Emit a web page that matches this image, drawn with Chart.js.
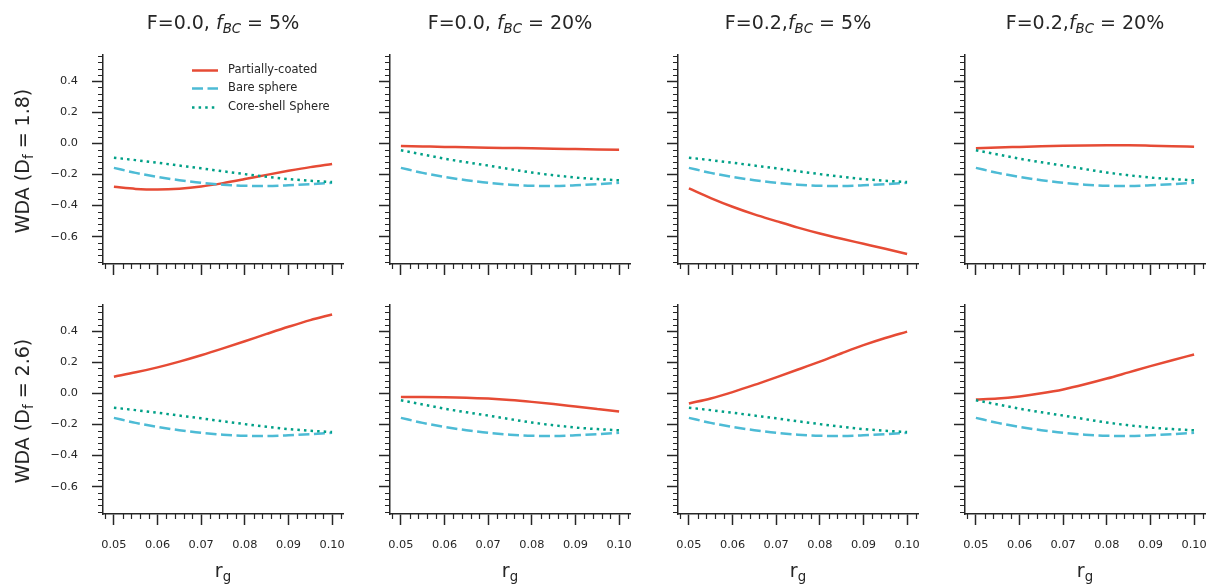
<!DOCTYPE html>
<html>
<head>
<meta charset="utf-8">
<script src="https://cdn.jsdelivr.net/npm/chart.js"></script>
<style>
html,body{margin:0;padding:0;background:#fff;}
body{width:1209px;height:586px;overflow:hidden;position:relative;font-family:'DejaVu Sans';color:#262626;}
canvas{position:absolute;}
.t{position:absolute;font-size:19px;line-height:19px;white-space:nowrap;transform:translateX(-50%);}
.yl{position:absolute;font-size:19px;line-height:19px;white-space:nowrap;transform:translate(-50%,-50%) rotate(-90deg);}
.sub{font-size:70%;position:relative;top:0.3em;}
</style>
</head>
<body>
<script>
// ---------------- data ----------------
const rG = [0.05, 0.055, 0.06, 0.065, 0.07, 0.075, 0.08, 0.085, 0.09, 0.095, 0.10];

const bareSphere  = [-0.158, -0.190, -0.216, -0.237, -0.254, -0.266, -0.273, -0.274, -0.270, -0.263, -0.254];
const coreShell05 = [-0.092, -0.108, -0.125, -0.143, -0.161, -0.180, -0.198, -0.215, -0.230, -0.241, -0.249];
const coreShell20 = [-0.045, -0.072, -0.099, -0.122, -0.143, -0.166, -0.188, -0.205, -0.220, -0.230, -0.238];

const partialF00f05D18 = [-0.280, -0.293, -0.297, -0.292, -0.278, -0.256, -0.230, -0.203, -0.177, -0.153, -0.133];
const partialF00f20D18 = [-0.017, -0.020, -0.023, -0.025, -0.028, -0.030, -0.032, -0.035, -0.037, -0.039, -0.041];
const partialF02f05D18 = [-0.290, -0.352, -0.408, -0.457, -0.500, -0.542, -0.580, -0.614, -0.646, -0.678, -0.712];
const partialF02f20D18 = [-0.032, -0.027, -0.023, -0.019, -0.016, -0.014, -0.013, -0.013, -0.015, -0.018, -0.022];
const partialF00f05D26 = [0.107, 0.135, 0.167, 0.204, 0.245, 0.289, 0.335, 0.382, 0.428, 0.471, 0.507];
const partialF00f20D26 = [-0.024, -0.024, -0.025, -0.028, -0.034, -0.043, -0.055, -0.069, -0.085, -0.101, -0.117];
const partialF02f05D26 = [-0.065, -0.033, 0.008, 0.054, 0.103, 0.153, 0.204, 0.258, 0.310, 0.356, 0.397];
const partialF02f20D26 = [-0.040, -0.034, -0.020, 0.000, 0.025, 0.058, 0.095, 0.135, 0.175, 0.213, 0.250];

const seriesNames = ['Partially-coated', 'Bare sphere', 'Core-shell Sphere'];

const xTickValues = [0.05, 0.06, 0.07, 0.08, 0.09, 0.10];
const xTickLabels = ['0.05', '0.06', '0.07', '0.08', '0.09', '0.10'];
const xMinorTicks = [0.048, 0.052, 0.054, 0.056, 0.058, 0.062, 0.064, 0.066, 0.068, 0.072, 0.074, 0.076, 0.078,
                     0.082, 0.084, 0.086, 0.088, 0.092, 0.094, 0.096, 0.098, 0.102];
const yTickValues = [-0.6, -0.4, -0.2, 0.0, 0.2, 0.4];
const yTickLabels = ['\u22120.6', '\u22120.4', '\u22120.2', '0.0', '0.2', '0.4'];
const yMinorTicks = [-0.76, -0.72, -0.68, -0.64, -0.56, -0.52, -0.48, -0.44, -0.36, -0.32, -0.28, -0.24,
                     -0.16, -0.12, -0.08, -0.04, 0.04, 0.08, 0.12, 0.16, 0.24, 0.28, 0.32, 0.36, 0.44, 0.48, 0.52, 0.56];

const colTitles = [
  'F=0.0, <i>f</i><span class="sub"><i>BC</i></span> = 5%',
  'F=0.0, <i>f</i><span class="sub"><i>BC</i></span> = 20%',
  'F=0.2,<i>f</i><span class="sub"><i>BC</i></span> = 5%',
  'F=0.2,<i>f</i><span class="sub"><i>BC</i></span> = 20%'
];
const rowLabels = [
  'WDA (D<span class="sub">f</span> = 1.8)',
  'WDA (D<span class="sub">f</span> = 2.6)'
];
const xLabel = 'r<span class="sub">g</span>';

const panels = [
  {row: 0, col: 0, partial: partialF00f05D18, core: coreShell05},
  {row: 0, col: 1, partial: partialF00f20D18, core: coreShell20},
  {row: 0, col: 2, partial: partialF02f05D18, core: coreShell05},
  {row: 0, col: 3, partial: partialF02f20D18, core: coreShell20},
  {row: 1, col: 0, partial: partialF00f05D26, core: coreShell05},
  {row: 1, col: 1, partial: partialF00f20D26, core: coreShell20},
  {row: 1, col: 2, partial: partialF02f05D26, core: coreShell05},
  {row: 1, col: 3, partial: partialF02f20D26, core: coreShell20}
];

// ---------------- layout / style ----------------
const INK = '#262626';
const RED = '#E64B35', BLUE = '#4DBBD5', TEAL = '#00A087';
const colLeft = [103, 390, 678, 965];
const rowTop = [55, 305];
const AW = 240, AH = 209;
const PADL = 70, PADT = 40, PADR = 40, PADB = 45;

Chart.defaults.font.family = "'DejaVu Sans'";
Chart.defaults.color = INK;

const minorTickPlugin = {
  id: 'minorTicks',
  afterDraw(chart) {
    const ctx = chart.ctx, xs = chart.scales.x, ys = chart.scales.y, a = chart.chartArea;
    ctx.save();
    ctx.strokeStyle = INK;
    ctx.lineWidth = 1.2;
    ctx.beginPath();
    xMinorTicks.forEach(v => {
      const p = Math.round(xs.getPixelForValue(v)) + 0.5;
      ctx.moveTo(p, a.bottom); ctx.lineTo(p, a.bottom + 5);
    });
    yMinorTicks.forEach(v => {
      const p = Math.round(ys.getPixelForValue(v)) + 0.5;
      ctx.moveTo(a.left, p); ctx.lineTo(a.left - 5, p);
    });
    ctx.stroke();
    ctx.restore();
  }
};

const inLegendPlugin = {
  id: 'inLegend',
  afterDatasetsDraw(chart, args, opts) {
    if (!opts.show) return;
    const ctx = chart.ctx, a = chart.chartArea;
    const x0 = a.left + opts.x;
    ctx.save();
    ctx.font = opts.fontSize + "px 'DejaVu Sans'";
    ctx.textBaseline = 'middle';
    ctx.textAlign = 'left';
    chart.data.datasets.forEach((d, i) => {
      const y = Math.round(a.top + opts.y0 + i * opts.dy) + 0.5;
      ctx.lineWidth = d.borderWidth;
      ctx.strokeStyle = d.borderColor;
      ctx.lineCap = 'butt';
      ctx.setLineDash(d.borderDash || []);
      ctx.beginPath();
      ctx.moveTo(x0, y); ctx.lineTo(x0 + opts.len, y);
      ctx.stroke();
      ctx.setLineDash([]);
      ctx.fillStyle = INK;
      ctx.fillText(d.label, x0 + opts.len + opts.gap, y);
    });
    ctx.restore();
  }
};

function pts(arr) { return rG.map((x, i) => ({x: x, y: arr[i]})); }

panels.forEach((p, idx) => {
  const L = colLeft[p.col], T = rowTop[p.row];
  const cv = document.createElement('canvas');
  const W = PADL + AW + PADR, H = PADT + AH + PADB;
  cv.width = W; cv.height = H;
  cv.style.left = (L - PADL) + 'px';
  cv.style.top = (T - PADT) + 'px';
  cv.style.width = W + 'px'; cv.style.height = H + 'px';
  document.body.appendChild(cv);

  const showX = p.row === 1, showY = p.col === 0;
  new Chart(cv, {
    type: 'line',
    data: {
      datasets: [
        {label: seriesNames[0], data: pts(p.partial), borderColor: RED, borderWidth: 2.5, order: 3},
        {label: seriesNames[1], data: pts(bareSphere), borderColor: BLUE, borderWidth: 2.5, borderDash: [11, 4.5], order: 2},
        {label: seriesNames[2], data: pts(p.core), borderColor: TEAL, borderWidth: 2.5, borderDash: [2.5, 4.1], order: 1}
      ]
    },
    options: {
      responsive: false,
      animation: false,
      devicePixelRatio: 1,
      layout: {padding: {left: 0, top: PADT, right: PADR, bottom: 0}},
      elements: {
        point: {radius: 0, hoverRadius: 0},
        line: {cubicInterpolationMode: 'monotone', fill: false, borderCapStyle: 'butt'}
      },
      plugins: {
        legend: {display: false},
        title: {display: false},
        tooltip: {enabled: false},
        inLegend: {show: idx === 0, x: 89, y0: 15, dy: 18.3, len: 26, gap: 10, fontSize: 11.5}
      },
      scales: {
        x: {
          type: 'linear', min: 0.0475, max: 0.1025,
          afterBuildTicks: s => { s.ticks = xTickValues.map(v => ({value: v})); },
          afterFit: s => { s.height = PADB; },
          border: {display: true, color: INK, width: 1.5},
          grid: {display: true, drawOnChartArea: false, drawTicks: true, tickLength: 11, tickColor: INK, tickWidth: 1.5},
          ticks: {display: showX, padding: 13, font: {size: 11.3}, color: INK, maxRotation: 0, autoSkip: false,
                  callback: (v, i) => xTickLabels[i]}
        },
        y: {
          type: 'linear', min: -0.776, max: 0.568,
          afterBuildTicks: s => { s.ticks = yTickValues.map(v => ({value: v})); },
          afterFit: s => { s.width = PADL; },
          border: {display: true, color: INK, width: 1.5},
          grid: {display: true, drawOnChartArea: false, drawTicks: true, tickLength: 11, tickColor: INK, tickWidth: 1.5},
          ticks: {display: showY, padding: 14, font: {size: 11.3}, color: INK, autoSkip: false,
                  callback: (v, i) => yTickLabels[i]}
        }
      }
    },
    plugins: [minorTickPlugin, inLegendPlugin]
  });
});

// titles & axis labels as HTML text
colTitles.forEach((t, c) => {
  const d = document.createElement('div');
  d.className = 't';
  d.innerHTML = t;
  d.style.left = (colLeft[c] + AW / 2) + 'px';
  d.style.top = '13px';
  document.body.appendChild(d);
  const xl = document.createElement('div');
  xl.className = 't';
  xl.innerHTML = xLabel;
  xl.style.left = (colLeft[c] + AW / 2) + 'px';
  xl.style.top = '561px';
  document.body.appendChild(xl);
});
rowLabels.forEach((t, r) => {
  const d = document.createElement('div');
  d.className = 'yl';
  d.innerHTML = t;
  d.style.left = '22.5px';
  d.style.top = (rowTop[r] + AH / 2 + 1.5) + 'px';
  document.body.appendChild(d);
});
</script>
</body>
</html>
